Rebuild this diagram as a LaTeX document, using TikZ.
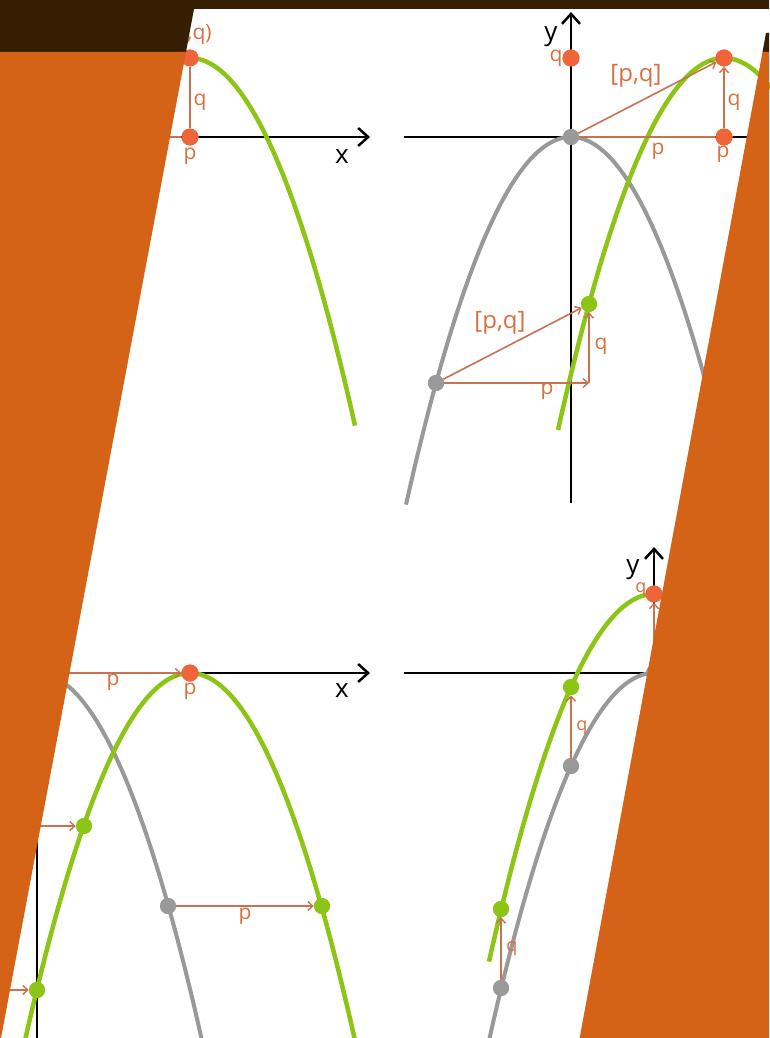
\documentclass[tikz,border=0pt]{standalone}
\usepackage{fontspec}
\setmainfont{Open Sans}
\usetikzlibrary{arrows.meta}
\definecolor{barbrown}{HTML}{361E03}
\definecolor{panelorange}{HTML}{D46318}
\definecolor{curvegreen}{HTML}{8CC515}
\definecolor{dotorange}{HTML}{F0643A}
\definecolor{arrowbrown}{HTML}{C9724F}
\definecolor{labelorange}{HTML}{D8703F}
\definecolor{curvegray}{HTML}{999999}
\tikzset{
  axisarrow/.style={line width=2.5pt, black, -{Straight Barb[length=10pt,width=18pt,line width=2.5pt]}},
  axisplain/.style={line width=2.5pt, black},
  greencurve/.style={line width=4.5pt, curvegreen},
  graycurve/.style={line width=4pt, curvegray},
  parrow/.style={line width=1.6pt, arrowbrown, -{Straight Barb[length=5pt,width=9pt,line width=1.4pt]}},
  pline/.style={line width=1.6pt, arrowbrown},
  odot/.style={circle, fill=dotorange, inner sep=0pt, minimum size=17pt},
  gdot/.style={circle, fill=curvegreen, inner sep=0pt, minimum size=16pt},
  ydot/.style={circle, fill=curvegray, inner sep=0pt, minimum size=16pt},
  lbl/.style={text=labelorange, font=\fontsize{21}{23}\selectfont, inner sep=0pt},
  lblsmall/.style={text=labelorange, font=\fontsize{18}{20}\selectfont, inner sep=0pt},
  lblbig/.style={text=labelorange, font=\fontsize{24}{26}\selectfont, inner sep=0pt},
  axlbl/.style={text=black, font=\fontsize{26}{28}\selectfont, inner sep=0pt},
}
\begin{document}
\begin{tikzpicture}[x=1pt,y=-1pt]
\useasboundingbox (0,0) rectangle (769,1038);
\fill[white] (0,0) rectangle (769,1038);

% ---------- axes ----------
\coordinate (xa1) at (0,137);   \coordinate (xb1) at (370,137);
\coordinate (xa2) at (404,137); \coordinate (xb2) at (769,137);
\coordinate (ya2) at (571,503); \coordinate (yb2) at (571,12);
\coordinate (xa3) at (0,673);   \coordinate (xb3) at (370,673);
\coordinate (ya3) at (37,1040); \coordinate (yb3) at (37,547);
\coordinate (xa4) at (404,673); \coordinate (xb4) at (769,673);
\coordinate (ya4) at (654,1040);\coordinate (yb4) at (654,547);
\draw[axisarrow] (xa1) -- (xb1);
\draw[axisplain] (xa2) -- (xb2);
\draw[axisarrow] (ya2) -- (yb2);
\draw[axisarrow] (xa3) -- (xb3);
\draw[axisarrow] (ya3) -- (yb3);
\draw[axisplain] (xa4) -- (xb4);
\draw[axisarrow] (ya4) -- (yb4);

% ---------- curves ----------
% top-left
\draw[greencurve] plot[domain=-166:165,samples=90,smooth] ({190+\x},{58+(0.1162*\x)*(0.1162*\x)});
% top-right
\draw[graycurve] plot[domain=-165:170,samples=90,smooth] ({571+\x},{137+(0.1162*\x)*(0.1162*\x)});
\draw[greencurve] plot[domain=-166:60,samples=70,smooth] ({724+\x},{58+(0.1162*\x)*(0.1162*\x)});
% bottom-left
\draw[graycurve] plot[domain=-170:170,samples=90,smooth] ({37+\x},{673+(0.1162*\x)*(0.1162*\x)});
\draw[greencurve] plot[domain=-176:170,samples=90,smooth] ({190+\x},{673+(0.1162*\x)*(0.1162*\x)});
% bottom-right
\draw[graycurve] plot[domain=-172:80,samples=80,smooth] ({654+\x},{673+(0.1162*\x)*(0.1162*\x)});
\draw[greencurve] plot[domain=-165:80,samples=80,smooth] ({654+\x},{594+(0.1162*\x)*(0.1162*\x)});

% ---------- dots ----------
% top-left
\coordinate (O1) at (37,137);
\node[odot] (P1) at (190,137) {};
\node[odot] (V1) at (190,58) {};
% top-right
\node[ydot] (O2) at (571,137) {};
\node[odot] (Q2) at (571,58) {};
\node[odot] (P2) at (724,137) {};
\node[odot] (V2) at (724,58) {};
\node[ydot] (G2) at (436,383) {};
\node[gdot] (H2) at (589,304) {};
\coordinate (C2) at (589,383);
% bottom-left
\coordinate (O3) at (37,673);
\node[odot] (V3) at (190,673) {};
\node[ydot] (G3) at (168,906) {};
\node[gdot] (H3) at (322,906) {};
\coordinate (G3b) at (-69,826);
\node[gdot] (H3b) at (84,826) {};
\coordinate (G3c) at (-116,990);
\node[gdot] (H3c) at (37,990) {};
% bottom-right
\node[ydot] (O4) at (654,673) {};
\node[odot] (V4) at (654,594) {};
\node[ydot] (G4a) at (571,766) {};
\node[gdot] (H4a) at (571,687) {};
\node[ydot] (G4b) at (501,988) {};
\node[gdot] (H4b) at (501,909) {};

% ---------- brown connectors ----------
\draw[pline] (O1) -- (P1);
\draw[pline] (P1) -- (V1);
\draw[pline] (O2) -- (P2);
\draw[parrow] (O2) -- (V2);
\draw[parrow] (P2) -- (V2);
\draw[parrow] (G2) -- (C2);
\draw[parrow] (C2) -- (H2);
\draw[parrow] (G2) -- (H2);
\draw[parrow] (O3) -- (V3);
\draw[parrow] (G3) -- (H3);
\draw[parrow] (G3b) -- (H3b);
\draw[parrow] (G3c) -- (H3c);
\draw[parrow] (O4) -- (V4);
\draw[parrow] (G4a) -- (H4a);
\draw[parrow] (G4b) -- (H4b);

% redraw dots on top of connectors
\foreach \n/\s in {P1/odot,V1/odot,O2/ydot,Q2/odot,P2/odot,V2/odot,G2/ydot,H2/gdot,V3/odot,G3/ydot,H3/gdot,H3b/gdot,H3c/gdot,O4/ydot,V4/odot,G4a/ydot,H4a/gdot,G4b/ydot,H4b/gdot}
  \node[\s] at (\n) {};

% ---------- labels ----------
\node[axlbl] (xl1) at (342,157) {x};
\node[lbl] (pl1) at (190,156) {p};
\node[lbl] (ql1) at (200,102) {q};
\node[lbl] (pql1) at (190,35) {(p,q)};

\node[axlbl] (yl2) at (551,37) {y};
\node[lbl] (ql2) at (556,58) {q};
\node[lblbig] (pqa2) at (636,76) {[p,q]};
\node[lbl] (ql2b) at (734,102) {q};
\node[lbl] (pl2) at (723,154) {p};
\node[lbl] (pl2b) at (658,151) {p};
\node[lblbig] (pqb2) at (500,323) {[p,q]};
\node[lbl] (ql2c) at (601,346) {q};
\node[lbl] (pl2c) at (547,391) {p};

\node[axlbl] (xl3) at (342,691) {x};
\node[lbl] (pl3) at (113,682) {p};
\node[lbl] (pl3b) at (190,691) {p};
\node[lbl] (pl3c) at (245,916) {p};

\node[axlbl] (yl4) at (633,570) {y};
\node[lblsmall] (ql4) at (641,590) {q};
\node[lblsmall] (ql4b) at (582,728) {q};
\node[lblsmall] (ql4c) at (512,949) {q};

% ---------- overlays ----------
\fill[barbrown] (0,0) -- (769,0) -- (769,9) -- (194,9) -- (186,52) -- (0,52) -- cycle;
\fill[panelorange] (0,52) -- (186,52) -- (1,1038) -- (0,1038) -- cycle;
\fill[barbrown] (766,33) -- (769,33) -- (769,52) -- (762.5,52) -- cycle;
\fill[panelorange] (762.5,52) -- (769,52) -- (769,1038) -- (579.6,1038) -- cycle;
\end{tikzpicture}
\end{document}
